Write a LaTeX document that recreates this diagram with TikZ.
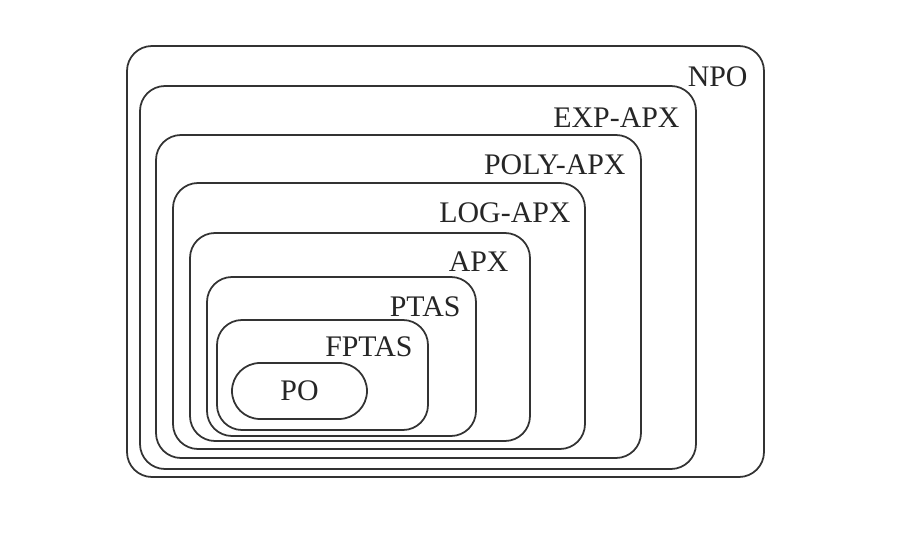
\documentclass[tikz,border=0pt]{standalone}
\usepackage{fontspec}
\setmainfont{Liberation Serif}
\usepackage{tikz}
\usetikzlibrary{positioning}
\tikzset{
  setbox/.style={draw=black!80, line width=1pt, rounded corners=0.5cm, inner sep=0pt},
  setname/.style={anchor=base east, text=black!85, font=\fontsize{17}{20}\selectfont, inner sep=0pt},
  pobox/.style={draw=black!80, line width=1pt, rounded corners=0.56cm, inner sep=0pt,
                text=black!85, font=\fontsize{17}{20}\selectfont},
}

\begin{document}
\begin{tikzpicture}
  \useasboundingbox (0,0) rectangle (18,10.68);

  % nested classes, outermost first
  \node[setbox, minimum width=12.74cm, minimum height=8.62cm] (npo) at (8.91,5.45) {};
  \node[setbox, minimum width=11.12cm, minimum height=7.66cm] (exp) at (8.36,5.13) {};
  \node[setbox, minimum width=9.70cm, minimum height=6.46cm] (poly) at (7.97,4.75) {};
  \node[setbox, minimum width=8.24cm, minimum height=5.32cm] (log) at (7.58,4.36) {};
  \node[setbox, minimum width=6.80cm, minimum height=4.16cm] (apx) at (7.20,3.94) {};
  \node[setbox, minimum width=5.38cm, minimum height=3.18cm] (ptas) at (6.83,3.55) {};
  \node[setbox, minimum width=4.22cm, minimum height=2.20cm] (fptas) at (6.45,3.18) {};
  \node[pobox, minimum width=2.70cm, minimum height=1.12cm] (po) at (5.99,2.86) {PO};

  % class names in the top right corners
  \node[setname] (nponame) at ([shift={(-0.34,-0.82)}]npo.north east) {NPO};
  \node[setname] (expname) at ([shift={(-0.34,-0.84)}]exp.north east) {EXP-APX};
  \node[setname] (polyname) at ([shift={(-0.32,-0.80)}]poly.north east) {POLY-APX};
  \node[setname] (logname) at ([shift={(-0.30,-0.80)}]log.north east) {LOG-APX};
  \node[setname] (apxname) at ([shift={(-0.44,-0.78)}]apx.north east) {APX};
  \node[setname] (ptasname) at ([shift={(-0.32,-0.80)}]ptas.north east) {PTAS};
  \node[setname] (fptasname) at ([shift={(-0.32,-0.74)}]fptas.north east) {FPTAS};

\end{tikzpicture}
\end{document}
